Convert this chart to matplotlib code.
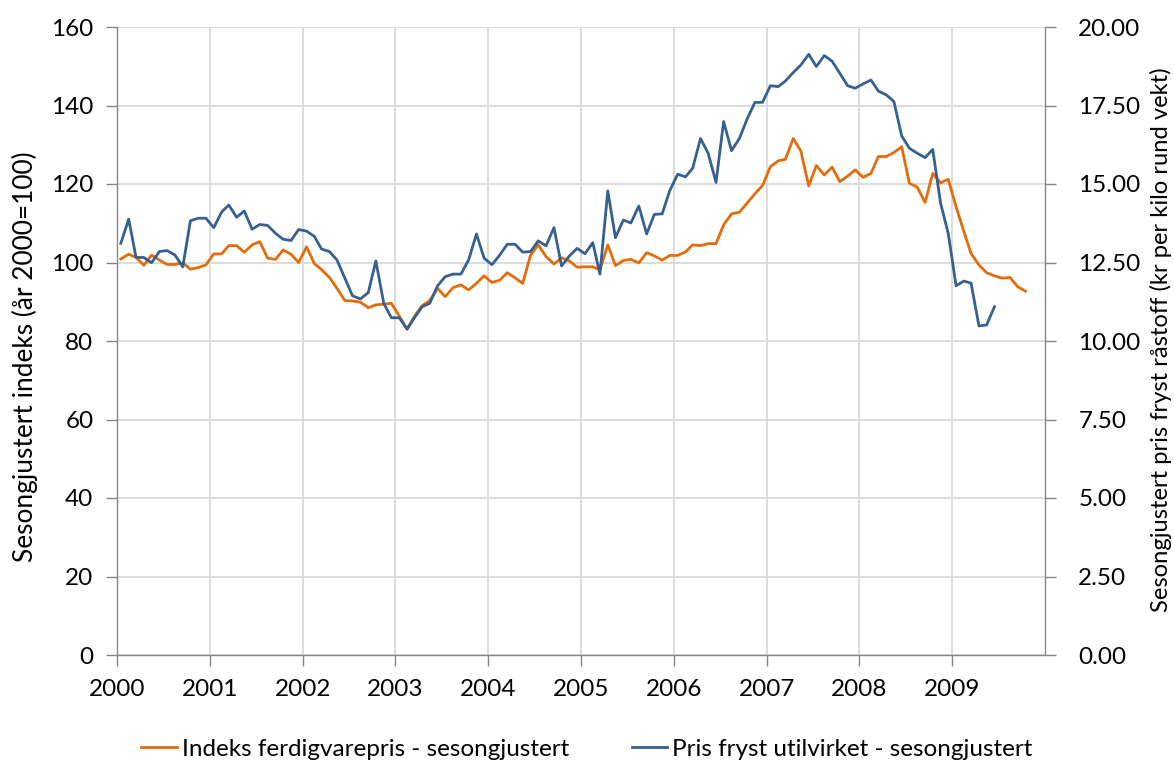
import matplotlib
matplotlib.use("Agg")
import matplotlib.pyplot as plt
import numpy as np
import pandas as pd

# Data (monthly values, plotted at mid-month)
indeks_ferdigvare = [
    100.9, 102.1, 101.3, 99.3, 101.9, 100.6, 99.5, 99.5, 99.9, 98.3, 98.7, 99.4,
    102.2, 102.2, 104.3, 104.3, 102.6, 104.5, 105.3, 101.1, 100.8, 103.2, 102.1, 100.0,
    104.0, 99.7, 98.2, 96.2, 93.4, 90.3, 90.2, 89.9, 88.5, 89.2, 89.4, 89.6,
    86.4, 83.0, 86.2, 89.0, 90.3, 93.4, 91.3, 93.6, 94.3, 93.0, 94.7, 96.6,
    94.9, 95.5, 97.4, 96.1, 94.7, 101.9, 104.5, 101.5, 99.6, 101.2, 100.4, 98.8,
    98.9, 98.9, 98.1, 104.5, 99.2, 100.5, 100.8, 99.9, 102.5, 101.7, 100.6, 101.8,
    101.8, 102.7, 104.5, 104.3, 104.8, 104.8, 109.6, 112.4, 112.8, 115.1, 117.5, 119.6,
    124.4, 125.9, 126.3, 131.6, 128.4, 119.5, 124.7, 122.3, 124.3, 120.6, 122.0, 123.6,
    121.7, 122.7, 127.0, 127.0, 128.0, 129.5, 120.2, 119.2, 115.3, 122.7, 120.3, 121.2,
    114.2, 107.8, 102.3, 99.4, 97.4, 96.6, 96.0, 96.2, 93.8, 92.7,
]
pris_fryst = [
    13.11, 13.88, 12.66, 12.66, 12.49, 12.85, 12.88, 12.74, 12.36, 13.83, 13.91, 13.91,
    13.61, 14.11, 14.33, 13.94, 14.14, 13.56, 13.71, 13.68, 13.43, 13.24, 13.20, 13.55,
    13.50, 13.33, 12.93, 12.85, 12.58, 12.00, 11.44, 11.34, 11.54, 12.55, 11.20, 10.74,
    10.74, 10.38, 10.73, 11.09, 11.20, 11.76, 12.05, 12.13, 12.13, 12.58, 13.41, 12.64,
    12.43, 12.74, 13.08, 13.08, 12.83, 12.85, 13.19, 13.03, 13.61, 12.39, 12.71, 12.95,
    12.78, 13.13, 12.13, 14.78, 13.29, 13.85, 13.76, 14.30, 13.41, 14.03, 14.05, 14.79,
    15.31, 15.23, 15.50, 16.45, 15.98, 15.05, 16.99, 16.06, 16.45, 17.06, 17.60, 17.60,
    18.13, 18.10, 18.28, 18.55, 18.79, 19.13, 18.74, 19.09, 18.91, 18.53, 18.13, 18.05,
    18.19, 18.31, 17.96, 17.84, 17.63, 16.53, 16.14, 15.98, 15.84, 16.10, 14.39, 13.43,
    11.76, 11.91, 11.84, 10.48, 10.51, 11.09,
]
years = list(range(2000, 2010))
left_ticks = [0, 20, 40, 60, 80, 100, 120, 140, 160]
right_ticks = [0, 2.5, 5, 7.5, 10, 12.5, 15, 17.5, 20]

label_orange = "Indeks ferdigvarepris - sesongjustert"
label_blue = "Pris fryst utilvirket - sesongjustert"
ylabel_left = "Sesongjustert indeks (år 2000=100)"
ylabel_right = "Sesongjustert pris fryst råstoff (kr per kilo rund vekt)"

dates_o = pd.date_range("2000-01-01", periods=len(indeks_ferdigvare), freq="MS") + pd.Timedelta(days=15)
dates_b = pd.date_range("2000-01-01", periods=len(pris_fryst), freq="MS") + pd.Timedelta(days=15)

plt.rcParams['font.family'] = ['Lato', 'DejaVu Sans']

W, H = 1174, 762
fig = plt.figure(figsize=(W/100, H/100), dpi=100)
ax = fig.add_axes([117/W, 1-655/H, (1045-117)/W, (655-27)/H])
ax2 = ax.twinx()

orange = "#E46C0A"
blue = "#376092"
grid_c = "#D9D9D9"
spine_c = "#868686"

l1, = ax.plot(dates_o, indeks_ferdigvare, color=orange, lw=2.0, label=label_orange, zorder=3)
l2, = ax2.plot(dates_b, pris_fryst, color=blue, lw=2.0, label=label_blue, zorder=3)

ax.set_xlim(pd.Timestamp("2000-01-01"), pd.Timestamp("2010-01-01"))
ax.set_ylim(0, 160)
ax2.set_ylim(0, 20)
ax.set_yticks(left_ticks)
ax2.set_yticks(right_ticks)
ax2.set_yticklabels([f"{v:.2f}" for v in right_ticks])
ax.set_xticks([pd.Timestamp(f"{y}-01-01") for y in years])
ax.set_xticklabels([str(y) for y in years])

ax.grid(True, color=grid_c, lw=1.3)
ax.set_axisbelow(True)
tick_fs = 17.5
for a in (ax, ax2):
    a.spines['top'].set_visible(False)
    for s in ('left', 'right', 'bottom'):
        a.spines[s].set_color(spine_c)
        a.spines[s].set_linewidth(1.0)
    a.tick_params(colors="black", labelsize=tick_fs, length=8, width=1.0, color=spine_c, direction='out')
    for t in a.get_xticklines() + a.get_yticklines():
        t.set_markeredgecolor(spine_c)
ax.spines['right'].set_visible(False)
ax2.spines['left'].set_visible(False)
ax2.spines['bottom'].set_visible(False)
ax.tick_params(axis='x', pad=9)
ax.tick_params(axis='y', pad=9)
ax2.tick_params(axis='y', pad=16)

yl = fig.text(25/W, 1-357/H, ylabel_left, rotation=90, ha='center', va='center', fontsize=16)
yr = fig.text(1161/W, 1-340/H, ylabel_right, rotation=90, ha='center', va='center', fontsize=16)

leg = fig.legend(handles=[l1, l2], labels=[label_orange, label_blue], loc='center',
                 bbox_to_anchor=(0.5, 1-749/H), ncol=2, frameon=False, fontsize=17.5,
                 handlelength=1.45, handletextpad=0.2, columnspacing=2.6, borderpad=0)

# scale label font sizes to match target pixel lengths
fig.canvas.draw()
r = fig.canvas.get_renderer()
def fit(t, target):
    bb = t.get_window_extent(r)
    t.set_fontsize(t.get_fontsize() * target / bb.height)
fit(yl, 412)
fit(yr, 548)
fig.canvas.draw()

fig.savefig("out.png", dpi=100)
